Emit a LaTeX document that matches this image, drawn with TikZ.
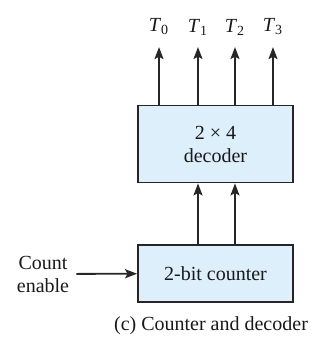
\documentclass[tikz,border=0pt]{standalone}
\usepackage{fontspec}
\setmainfont{Liberation Serif}
\usepackage{tikz}
\usetikzlibrary{positioning, arrows.meta}
\usepackage{xcolor}
\definecolor{boxblue}{RGB}{221,239,251}

\begin{document}
\begin{tikzpicture}[
        x=0.5pt, y=-0.5pt,
        block/.style={rectangle, draw=black!85, line width=0.9pt, fill=boxblue, minimum width=77.5pt, align=center, font=\fontsize{10}{11.5}\selectfont, text=black!90},
        outlabel/.style={font=\fontsize{10}{12}\selectfont, text=black!90, inner sep=0pt},
        arrow/.style={-{Stealth[length=6pt, width=4.5pt, inset=1.2pt]}, line width=0.9pt, draw=black!85}
    ]
    \useasboundingbox (0,0) rectangle (326,338);
    \node[block, minimum height=38.5pt] (decoder) at (215.5,144) {2 × 4\\decoder};
    \node[block, minimum height=28.5pt] (counter) at (215.5,273.5) {2-bit counter};
    \node[outlabel, align=center, font=\fontsize{10}{11.5}\selectfont, inner sep=3.5pt] (enable) at (43,274) {Count\\enable};
    \node[outlabel] (caption) at (211,326) {(c) Counter and decoder};
    \foreach \i/\x in {0/159, 1/198, 2/235, 3/273}
        \node[outlabel, inner ysep=5.8pt] (T\i) at (\x,27) {\textit{T}\textsubscript{\i}};
    \foreach \i in {0,...,3}
        \draw[arrow] (decoder.north -| T\i) -- (T\i.south);
    \draw[arrow] (counter.north -| T1) -- (decoder.south -| T1);
    \draw[arrow] (counter.north -| T2) -- (decoder.south -| T2);
    \draw[arrow] (enable) -- (counter);
\end{tikzpicture}
\end{document}
